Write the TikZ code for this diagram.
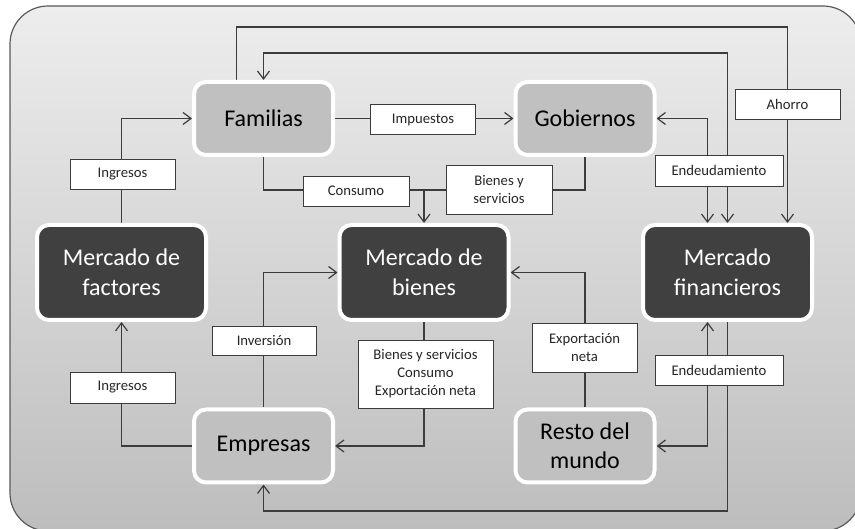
\documentclass[tikz,border=0pt]{standalone}
\usepackage{fontspec}
\setmainfont{Carlito}
\usetikzlibrary{arrows.meta}
\definecolor{frameTop}{HTML}{EDEDED}
\definecolor{frameBot}{HTML}{BDBDBD}
\definecolor{frameLine}{HTML}{5A5A5A}
\definecolor{lineC}{HTML}{3C3C3C}
\definecolor{lightN}{HTML}{C0C0C0}
\definecolor{darkN}{HTML}{404040}
\pgfdeclarelayer{bg}
\pgfdeclarelayer{lines}
\pgfsetlayers{bg,lines,main}
\tikzset{
  lightbox/.style={rectangle, rounded corners=12pt, fill=lightN, draw=white, line width=4pt,
    minimum width=139pt, minimum height=73pt, inner sep=0pt, align=center, text=black,
    font=\fontsize{24}{29}\selectfont},
  darkbox/.style={rectangle, rounded corners=12pt, fill=darkN, draw=white, line width=4pt,
    minimum width=169pt, minimum height=95pt, inner sep=0pt, align=center, text=white,
    font=\fontsize{24}{30}\selectfont},
  lbl/.style={rectangle, fill=white, draw=lineC, line width=0.9pt,
    minimum width=105pt, minimum height=30pt, inner sep=0pt, align=center, text=black!85,
    font=\fontsize{14.7}{18}\selectfont},
  conn/.style={draw=lineC, line width=1.2pt},
  arr/.style={conn, -{Straight Barb[length=8pt,width=12pt]}},
  arrboth/.style={conn, {Straight Barb[length=8pt,width=12pt]}-{Straight Barb[length=8pt,width=12pt]}},
}
\begin{document}
\begin{tikzpicture}[x=1pt,y=-1pt]
\useasboundingbox (0,0) rectangle (855,529);
\begin{pgfonlayer}{bg}
  \fill[white] (0,0) rectangle (855,529);
  \begin{scope}
    \clip (0,0) rectangle (855,529);
    \draw[draw=frameLine, line width=1.2pt, rounded corners=38pt, top color=frameTop, bottom color=frameBot]
      (10,6) rectangle (861,531);
  \end{scope}
\end{pgfonlayer}

% main nodes
\node[lightbox] (fam) at (263.5,118.5) {Familias};
\node[lightbox] (gob) at (585,118.5) {Gobiernos};
\node[darkbox] (fac) at (121.5,272.5) {Mercado de\\factores};
\node[darkbox] (bie) at (424,272.5) {Mercado de\\bienes};
\node[darkbox] (fin) at (727.5,272.5) {Mercado\\financieros};
\node[lightbox] (emp) at (263.5,446) {Empresas};
\node[lightbox] (resto) at (585,446) {Resto del\\mundo};

% helper coordinates (rows)
\coordinate (r1) at (0,27);
\coordinate (r2) at (0,53);
\coordinate (r3) at (0,190);
\coordinate (r4) at (0,511);

% labels
\node[lbl] (impuestos) at (423,119.5) {Impuestos};
\node[lbl] (ingA) at (122.5,174) {Ingresos};
\node[lbl, minimum width=106pt] (consumo) at (356,191) {Consumo};
\node[lbl, minimum width=106pt, minimum height=49pt] (bys) at (499,189.5) {Bienes y\\servicios};
\node[lbl, minimum width=128pt, minimum height=31pt] (endA) at (719,170.5) {Endeudamiento};
\node[lbl] (ahorro) at (787.5,104) {Ahorro};
\node[lbl, minimum width=104pt, minimum height=29pt] (inversion) at (264,340.5) {Inversión};
\node[lbl, minimum height=31pt] (ingB) at (122.5,387.5) {Ingresos};
\node[lbl, minimum width=135pt, minimum height=68pt] (bce) at (425.5,374) {Bienes y servicios\\Consumo\\Exportación neta};
\node[lbl, minimum width=105pt, minimum height=49pt] (expn) at (584.5,347.5) {Exportación\\neta};
\node[lbl, minimum width=128pt] (endB) at (719,370) {Endeudamiento};

\begin{pgfonlayer}{lines}
  % Ahorro
  \draw[arr] ([xshift=-27pt]fam.north) |- (r1 -| ahorro) -- (ahorro |- fin.north);
  % Familias <-> Mercado financieros
  \draw[arrboth] (fam.north) |- (r2 -| fin.north) -- (fin.north);
  % Gobiernos <-> Mercado financieros (Endeudamiento)
  \draw[arrboth] (gob.east) -| ([xshift=-20pt]fin.north);
  % Mercado financieros <-> Resto del mundo (Endeudamiento)
  \draw[arrboth] ([xshift=-20pt]fin.south) |- (resto.east);
  % Mercado financieros -> Empresas
  \draw[arr] (fin.south) |- (r4 -| emp.south) -- (emp.south);
  % Impuestos
  \draw[arr] (fam.east) -- (gob.west);
  % Consumo
  \draw[arr] (fam.south) |- (r3 -| bie.north) -- (bie.north);
  % Bienes y servicios (Gobiernos)
  \draw[conn] (gob.south) |- (r3 -| bie.north);
  % Ingresos (factores -> familias)
  \draw[arr] (fac.north) |- (fam.west);
  % Ingresos (empresas -> factores)
  \draw[arr] (emp.west) -| (fac.south);
  % Inversion
  \draw[arr] (emp.north) |- (bie.west);
  % Bienes y servicios / Consumo / Exportacion neta
  \draw[arr] (bie.south) |- (emp.east);
  % Exportacion neta
  \draw[arr] (resto.north) |- (bie.east);
\end{pgfonlayer}
\end{tikzpicture}
\end{document}
